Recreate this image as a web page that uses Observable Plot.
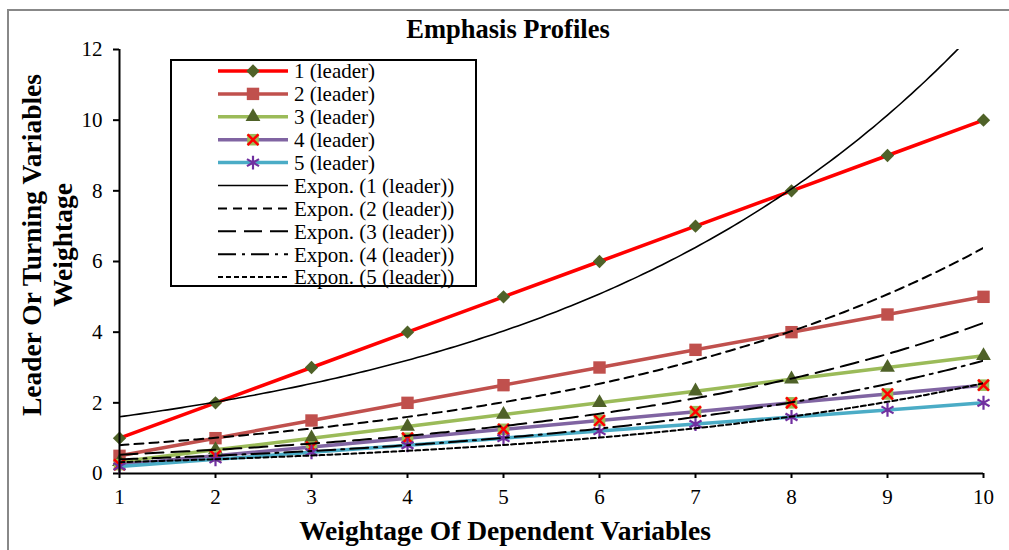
<!DOCTYPE html>
<html>
<head>
<meta charset="utf-8">
<script src="https://cdn.jsdelivr.net/npm/d3@7"></script>
<script src="https://cdn.jsdelivr.net/npm/@observablehq/plot@0.6"></script>
<style>
  html, body { margin: 0; padding: 0; background: #fff; }
  #chart svg { display: block; }
</style>
</head>
<body>
<div id="chart"></div>
<script>
// ---- Data ----
const xValues = [1, 2, 3, 4, 5, 6, 7, 8, 9, 10];
const series1 = [1, 2, 3, 4, 5, 6, 7, 8, 9, 10];
const series2 = [0.5, 1, 1.5, 2, 2.5, 3, 3.5, 4, 4.5, 5];
const series3 = [0.33, 0.67, 1, 1.33, 1.67, 2, 2.33, 2.67, 3, 3.33];
const series4 = [0.25, 0.5, 0.75, 1, 1.25, 1.5, 1.75, 2, 2.25, 2.5];
const series5 = [0.2, 0.4, 0.6, 0.8, 1, 1.2, 1.4, 1.6, 1.8, 2];
const seriesNames = ["1 (leader)", "2 (leader)", "3 (leader)", "4 (leader)", "5 (leader)"];
const trendNames = ["Expon. (1 (leader))", "Expon. (2 (leader))", "Expon. (3 (leader))", "Expon. (4 (leader))", "Expon. (5 (leader))"];
const yTicks = [0, 2, 4, 6, 8, 10, 12];
const xTicks = [1, 2, 3, 4, 5, 6, 7, 8, 9, 10];
const titleText = "Emphasis Profiles";
const xLabelText = "Weightage Of Dependent Variables";
const yLabelLines = ["Leader Or Turning Variables", "Weightage"];

// ---- Styles ----
const FONT = "Liberation Serif, Times New Roman, serif";
const allSeries = [series1, series2, series3, series4, series5];
const lineColors = ["#FF0000", "#C0504D", "#9BBB59", "#8064A2", "#4BACC6"];
const markers = [
  [{symbol: "diamond2", fill: "#4F6228", stroke: "none", r: 6}],
  [{symbol: "square", fill: "#C0504D", stroke: "none", r: 7}],
  [{symbol: "triangle", fill: "#4F6228", stroke: "none", r: 5.5}],
  [{symbol: "square", fill: "#9BBB59", stroke: "none", r: 6.5},
   {symbol: "times", fill: "none", stroke: "#FF0000", r: 5, strokeWidth: 2.5}],
  [{symbol: "asterisk", fill: "none", stroke: "#7030A0", r: 6.6, strokeWidth: 2.2}]
];
const trendStyles = [
  {strokeWidth: 1.6, dash: null},
  {strokeWidth: 2, dash: "9,6"},
  {strokeWidth: 2, dash: "18,8"},
  {strokeWidth: 2, dash: "18,6,3,6"},
  {strokeWidth: 2, dash: "5,3"}
];

// ---- Derived tables ----
const tables = allSeries.map(ys => xValues.map((x, i) => ({x, y: ys[i]})));
// Exponential trendline: least-squares fit of ln(y) on x, as a spreadsheet would
function expFit(tab) {
  const mx = d3.mean(tab, d => d.x), ml = d3.mean(tab, d => Math.log(d.y));
  const b = d3.sum(tab, d => (d.x - mx) * (Math.log(d.y) - ml)) / d3.sum(tab, d => (d.x - mx) ** 2);
  const a = Math.exp(ml - b * mx);
  const xs = d3.range(0, 181).map(i => 1 + i * 9 / 180);
  return xs.map(x => ({x, y: a * Math.exp(b * x)}));
}
const trends = tables.map(expFit);

// ---- Marks ----
const marks = [];
tables.forEach((tab, i) => {
  marks.push(Plot.line(tab, {x: "x", y: "y", stroke: lineColors[i], strokeWidth: 3.5}));
  markers[i].forEach(m => marks.push(Plot.dot(tab, {
    x: "x", y: "y", symbol: m.symbol, fill: m.fill, stroke: m.stroke, r: m.r,
    strokeWidth: m.strokeWidth || 1
  })));
});
trends.forEach((tr, i) => {
  marks.push(Plot.line(tr, {x: "x", y: "y", stroke: "black", strokeWidth: trendStyles[i].strokeWidth,
    strokeDasharray: trendStyles[i].dash, clip: true}));
});

const chart = Plot.plot({
  width: 1009,
  height: 550,
  marginLeft: 119,
  marginRight: 26,
  marginTop: 49,
  marginBottom: 77,
  style: {fontFamily: FONT, background: "white", color: "black", overflow: "visible"},
  x: {domain: [1, 10]},
  y: {domain: [0, 12]},
  marks: [
    Plot.axisY({ticks: yTicks, tickSize: 6, tickPadding: 11, fontSize: 21, label: null, strokeWidth: 2, tickFormat: d => d}),
    Plot.axisX({ticks: xTicks, tickSize: 5, tickPadding: 11, fontSize: 21, label: null, strokeWidth: 2, tickFormat: d => d}),
    ...marks,
    Plot.ruleY([0], {stroke: "black", strokeWidth: 2}),
    Plot.ruleX([1], {stroke: "black", strokeWidth: 2})
  ]
});
document.getElementById("chart").appendChild(chart);

// ---- Extra decorations (title, axis labels, legend, border) ----
const svg = d3.select(chart);
svg.append("rect").attr("x", 8).attr("y", 10).attr("width", 1020).attr("height", 560)
  .attr("fill", "none").attr("stroke", "#888").attr("stroke-width", 2);

svg.append("text").text(titleText).attr("x", 508).attr("y", 38)
  .attr("text-anchor", "middle").attr("font-weight", "bold").attr("font-size", 26.5).attr("font-family", FONT);
svg.append("text").text(xLabelText).attr("x", 505).attr("y", 540)
  .attr("text-anchor", "middle").attr("font-weight", "bold").attr("font-size", 27.5).attr("font-family", FONT);
const ylab = svg.append("text").attr("transform", "translate(0,245) rotate(-90)")
  .attr("text-anchor", "middle").attr("font-weight", "bold").attr("font-size", 27.5).attr("font-family", FONT);
ylab.append("tspan").attr("x", 0).attr("y", 41).text(yLabelLines[0]);
ylab.append("tspan").attr("x", 0).attr("y", 72).text(yLabelLines[1]);

// Legend
const lg = svg.append("g").attr("text-anchor", "start");
lg.append("rect").attr("x", 171).attr("y", 60).attr("width", 305).attr("height", 226)
  .attr("fill", "white").attr("stroke", "black").attr("stroke-width", 2);
const rowY = i => 71 + i * 22.9;
const symMap = {diamond2: d3.symbolDiamond2, square: d3.symbolSquare, triangle: d3.symbolTriangle,
  times: d3.symbolTimes, asterisk: d3.symbolAsterisk};
seriesNames.forEach((name, i) => {
  const y = rowY(i);
  lg.append("line").attr("x1", 218).attr("x2", 288).attr("y1", y).attr("y2", y)
    .attr("stroke", lineColors[i]).attr("stroke-width", 3.5);
  markers[i].forEach(m => {
    lg.append("path").attr("d", d3.symbol(symMap[m.symbol], Math.PI * m.r * m.r)())
      .attr("transform", `translate(253,${y})`).attr("fill", m.fill).attr("stroke", m.stroke)
      .attr("stroke-width", m.strokeWidth || 1);
  });
  lg.append("text").text(name).attr("x", 294).attr("y", y).attr("dy", "0.35em")
    .attr("text-anchor", "start").attr("font-size", 21).attr("font-family", FONT);
});
trendNames.forEach((name, i) => {
  const y = rowY(i + 5);
  const ln = lg.append("line").attr("x1", 218).attr("x2", 288).attr("y1", y).attr("y2", y)
    .attr("stroke", "black").attr("stroke-width", trendStyles[i].strokeWidth);
  if (trendStyles[i].dash) ln.attr("stroke-dasharray", trendStyles[i].dash);
  lg.append("text").text(name).attr("x", 294).attr("y", y).attr("dy", "0.35em")
    .attr("text-anchor", "start").attr("font-size", 21).attr("font-family", FONT);
});
</script>
</body>
</html>
